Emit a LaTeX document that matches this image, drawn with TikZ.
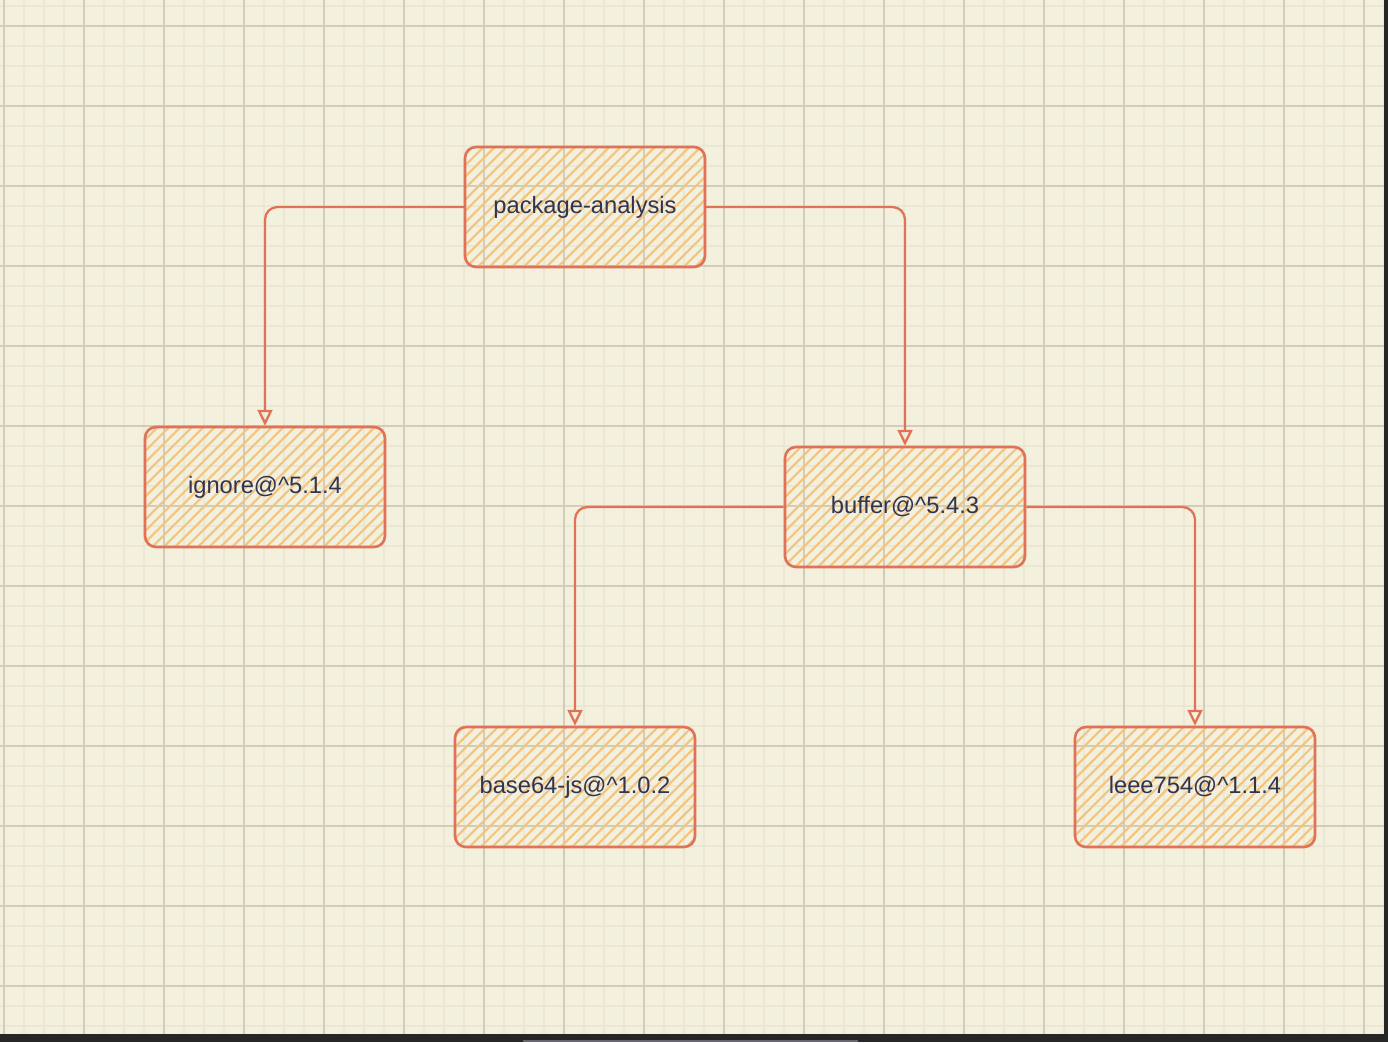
\documentclass[tikz,border=0pt]{standalone}
\usepackage{fontspec}
\setmainfont{Liberation Sans}
\usepackage{tikz}
\usetikzlibrary{arrows.meta, positioning, patterns.meta}
\definecolor{paper}{HTML}{F3F0DE}
\definecolor{gridminor}{HTML}{EBE7D3}
\definecolor{gridmajor}{HTML}{D2CDBA}
\definecolor{strokered}{HTML}{E07257}
\definecolor{hatchorange}{HTML}{F2C47E}
\definecolor{inkblue}{HTML}{2F3452}

\begin{document}
\begin{tikzpicture}[
    x=0.02cm, y=-0.02cm,
    pkgbox/.style={rectangle, rounded corners=0.22cm, draw=strokered, line width=1.5pt,
        pattern={Lines[angle=45, distance=4.6pt, line width=1.2pt]}, pattern color=hatchorange,
        minimum width=4.8cm, minimum height=2.4cm, text centered, text=inkblue,
        font=\fontsize{13.5}{16}\selectfont},
    arrow/.style={-{Triangle[open, length=9pt, width=8.5pt]}, line width=1.3pt, strokered, rounded corners=0.25cm}
]

\useasboundingbox (0,0) rectangle (1388,1042);
\fill[paper] (0,0) rectangle (1388,1042);

% grid
\foreach \x in {4,24,...,1384} {
    \draw[gridminor, line width=1.2pt] (\x,0) -- (\x,1034);
}
\foreach \y in {6,26,...,1034} {
    \draw[gridminor, line width=1.2pt] (0,\y) -- (1384,\y);
}
\foreach \x in {4,84,...,1384} {
    \draw[gridmajor, line width=0.6pt] (\x,0) -- (\x,1034);
}
\foreach \y in {26,106,...,1034} {
    \draw[gridmajor, line width=0.6pt] (0,\y) -- (1384,\y);
}

% window edges
\fill[black!85] (0,1034) rectangle (1388,1042);
\fill[black!85] (1384,0) rectangle (1388,1042);
\fill[black!70!blue!20!gray] (523,1040) rectangle (858,1042);

\node[pkgbox] (root) at (585,207) {package-analysis};
\node[pkgbox] (ignore) at (265,487) {ignore@\^{}5.1.4};
\node[pkgbox] (buffer) at (905,507) {buffer@\^{}5.4.3};
\node[pkgbox] (base64) at (575,787) {base64-js@\^{}1.0.2};
\node[pkgbox] (ieee) at (1195,787) {leee754@\^{}1.1.4};

\draw[arrow] (root.west) -| (ignore.north);
\draw[arrow] (root.east) -| (buffer.north);
\draw[arrow] (buffer.west) -| (base64.north);
\draw[arrow] (buffer.east) -| (ieee.north);

\end{tikzpicture}
\end{document}
